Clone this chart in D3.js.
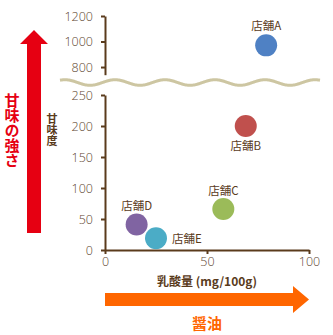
<!DOCTYPE html>
<html>
<head>
<meta charset="utf-8">
<script src="https://cdn.jsdelivr.net/npm/d3@7"></script>
<style>
  html, body { margin: 0; padding: 0; background: #fff; }
  svg { display: block; font-family: "Open Sans", "Noto Sans CJK JP", sans-serif; }
</style>
</head>
<body>
<svg id="chart" width="333" height="335"></svg>
<script>
// Shops, lactic acid (mg/100g) and sweetness index
const shops = ["店舗A", "店舗B", "店舗C", "店舗D", "店舗E"];
const lactic = [79, 69, 58, 15.5, 25];
const sweetness = [970, 200, 66, 41, 19];
const colors = ["#4f81c4", "#c0504d", "#9bbb59", "#8064a2", "#4bacc6"];
const lowTicks = [0, 50, 100, 150, 200, 250];
const highTicks = [800, 1000, 1200];
const xTicks = [0, 50, 100];

const brown = "#5a3b1c";
const svg = d3.select("#chart");

const x = d3.scaleLinear().domain([0, 100]).range([105, 309]);
const yLow = d3.scaleLinear().domain([0, 250]).range([250, 95]);
const yHigh = d3.scaleLinear().domain([740, 1200]).range([74.7, 16]);

function styleAxis(g) {
  g.selectAll("path.domain").attr("stroke", brown).attr("stroke-width", 2);
  g.selectAll(".tick line").attr("stroke", brown).attr("stroke-width", 2);
  g.selectAll(".tick text").attr("fill", "#5e4630").attr("font-size", 12.5)
    .attr("font-family", "'Open Sans', sans-serif").attr("font-weight", 300);
}

// Lower y axis (0–250)
svg.append("g").attr("transform", "translate(105,0)")
  .call(d3.axisLeft(yLow).tickValues(lowTicks).tickFormat(d3.format("d"))
    .tickSize(4).tickSizeOuter(0).tickPadding(8))
  .call(styleAxis);

// Upper y axis (800–1200)
svg.append("g").attr("transform", "translate(105,0)")
  .call(d3.axisLeft(yHigh).tickValues(highTicks).tickFormat(d3.format("d"))
    .tickSize(4).tickSizeOuter(0).tickPadding(8))
  .call(styleAxis);

// X axis
svg.append("g").attr("transform", "translate(0,250)")
  .call(d3.axisBottom(x).tickValues(xTicks).tickFormat(d3.format("d"))
    .tickSize(4).tickSizeOuter(0).tickPadding(3))
  .call(styleAxis);

// Wavy break line between the two y ranges
const waveXs = d3.range(60, 321, 1);
svg.append("path")
  .attr("d", d3.line().x(d => d).y(d => 82.5 - 2.8 * Math.sin((d - 65) / 50 * 2 * Math.PI + Math.PI / 2))(waveXs))
  .attr("fill", "none").attr("stroke", "#cdc6a2").attr("stroke-width", 3);

// Points
const pts = shops.map((s, i) => ({
  name: s, x: lactic[i], y: sweetness[i], color: colors[i],
  cy: sweetness[i] > 250 ? yHigh(sweetness[i]) : yLow(sweetness[i])
}));

svg.append("g").selectAll("circle").data(pts).join("circle")
  .attr("cx", d => x(d.x)).attr("cy", d => d.cy).attr("r", 11)
  .attr("fill", d => d.color);

// Point labels: placement offsets per shop
const labelPos = {
  "店舗A": { dx: 0, dy: -15, anchor: "middle" },
  "店舗B": { dx: 0, dy: 24, anchor: "middle" },
  "店舗C": { dx: 0, dy: -14, anchor: "middle" },
  "店舗D": { dx: 0, dy: -15, anchor: "middle" },
  "店舗E": { dx: 16, dy: 5, anchor: "start" }
};
svg.append("g").selectAll("text").data(pts).join("text")
  .attr("x", d => x(d.x) + labelPos[d.name].dx)
  .attr("y", d => d.cy + labelPos[d.name].dy)
  .attr("text-anchor", d => labelPos[d.name].anchor)
  .attr("font-size", 11.5).attr("fill", brown)
  .attr("font-family", "'Noto Sans CJK JP', sans-serif")
  .text(d => d.name);

// Y axis title (vertical)
svg.append("text")
  .attr("x", 52).attr("y", 113)
  .style("writing-mode", "vertical-rl")
  .attr("font-size", 11).attr("font-weight", "bold")
  .attr("fill", brown).attr("font-family", "'Noto Sans CJK JP', sans-serif")
  .text("甘味度");

// X axis title
svg.append("text").attr("x", 207).attr("y", 286).attr("text-anchor", "middle")
  .attr("font-size", 12).attr("font-weight", "bold").attr("fill", brown)
  .attr("font-family", "'Noto Sans CJK JP', sans-serif")
  .text("乳酸量 (mg/100g)");

// Red upward arrow
svg.append("path")
  .attr("d", "M27,233 L27,44 L20,44 L34,30 L48,44 L41,44 L41,233 Z")
  .attr("fill", "#e60012");

// Red vertical caption
svg.append("text")
  .attr("x", 12).attr("y", 93)
  .style("writing-mode", "vertical-rl")
  .attr("font-size", 15).attr("font-weight", "bold")
  .attr("fill", "#e60012").attr("font-family", "'Noto Sans CJK JP', sans-serif")
  .text("甘味の強さ");

// Orange rightward arrow
svg.append("path")
  .attr("d", "M105,293 L293,293 L293,286 L309,299.5 L293,313 L293,306 L105,306 Z")
  .attr("fill", "#ff6600");

svg.append("text").attr("x", 207).attr("y", 329).attr("text-anchor", "middle")
  .attr("font-size", 15).attr("font-weight", "bold").attr("fill", "#ff6600")
  .attr("font-family", "'Noto Sans CJK JP', sans-serif")
  .text("醤油");
</script>
</body>
</html>
